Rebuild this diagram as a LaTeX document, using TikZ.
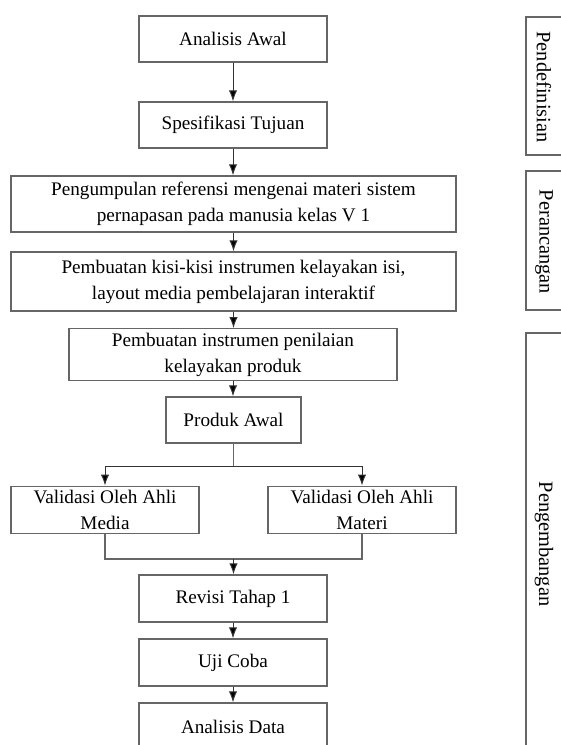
\documentclass[tikz,border=0pt]{standalone}
\usepackage{fontspec}
\setmainfont{Liberation Serif}
\usetikzlibrary{arrows.meta,positioning}

\tikzset{
    kotak/.style={draw=black!60, line width=0.7pt, align=center, inner sep=2pt,
        font=\fontsize{9.6}{13}\selectfont},
    panah/.style={draw=black!80, line width=0.5pt, -{Latex[length=5.5pt,width=4.2pt,fill=black]}},
    garis/.style={draw=black!60, line width=0.6pt},
    fase/.style={font=\fontsize{10.2}{13}\selectfont, rotate=-90}
}

\begin{document}
\begin{tikzpicture}[x=0.5pt,y=-0.5pt]
            \useasboundingbox (0,0) rectangle (561,745);
            \clip (0,0) rectangle (561,745);
            % alur utama
            \node[kotak, minimum width=94pt, minimum height=23pt] (awal) at (233,39) {Analisis Awal};
            \node[kotak, minimum width=94pt, minimum height=23pt] (tujuan) at (233,125) {Spesifikasi Tujuan};
            \node[kotak, minimum width=222.5pt, minimum height=28pt] (referensi) at (233.5,204) {Pengumpulan referensi mengenai materi sistem\\pernapasan pada manusia kelas V 1};
            \node[kotak, minimum width=222.5pt, minimum height=29.5pt] (kisi) at (233.5,281.5) {Pembuatan kisi-kisi instrumen kelayakan isi,\\layout media pembelajaran interaktif};
            \node[kotak, minimum width=164pt, minimum height=23.5pt] (instrumen) at (233,354.5) {Pembuatan instrumen penilaian\\kelayakan produk};
            \node[kotak, minimum width=67.5pt, minimum height=23pt] (produk) at (233.5,420) {Produk Awal};
            \node[kotak, minimum width=94pt, minimum height=23pt] (media) at (105,510) {Validasi Oleh Ahli\\Media};
            \node[kotak, minimum width=94pt, minimum height=23pt] (materi) at (362,510) {Validasi Oleh Ahli\\Materi};
            \node[kotak, minimum width=94pt, minimum height=23.5pt] (revisi) at (233,598.5) {Revisi Tahap 1};
            \node[kotak, minimum width=94pt, minimum height=23.5pt] (uji) at (233,662.5) {Uji Coba};
            \node[kotak, minimum width=94pt, minimum height=23.5pt] (data) at (233,726.5) {Analisis Data};
            \coordinate (pecah) at (233.5,466);
            \coordinate (gabung) at (233.5,559);

            \foreach \a/\b in {awal/tujuan, tujuan/referensi, referensi/kisi, kisi/instrumen, instrumen/produk, revisi/uji, uji/data} {
                \draw[panah] (\a.south) -- (\a.south |- \b.north);
            }
            \draw[garis] (produk.south) -- (pecah);
            \draw[panah] (pecah) -| (media.north);
            \draw[panah] (pecah) -| (materi.north);
            \draw[garis] (media.south) |- (gabung);
            \draw[garis] (materi.south) |- (gabung);
            \draw[panah] (gabung) -- (gabung |- revisi.north);

            % tahap di kanan
            \draw[garis] (526,17) rectangle (620,155);
            \draw[garis] (526,171) rectangle (620,310);
            \draw[garis] (526,333) rectangle (620,800);
            \node[fase] (definisi) at (544,87) {Pendefinisian};
            \node[fase] (rancang) at (544,242) {Perancangan};
            \node[fase] (kembang) at (544,544) {Pengembangan};
        \end{tikzpicture}
\end{document}
